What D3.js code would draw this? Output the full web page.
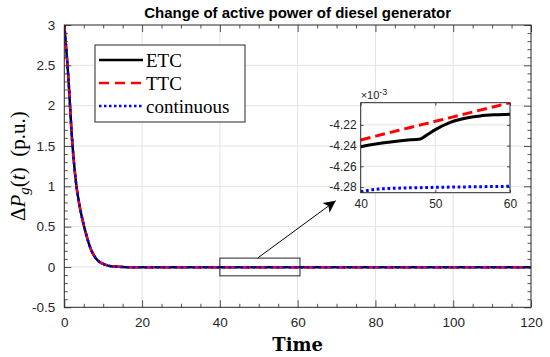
<!DOCTYPE html>
<html>
<head>
<meta charset="utf-8">
<script src="https://cdn.jsdelivr.net/npm/d3@7"></script>
<style>
  body { margin: 0; background: #fff; }
  svg { display: block; }
  .tick text { fill: #262626; }
</style>
</head>
<body>
<svg id="chart" width="550" height="357"></svg>
<script>
// main curves (the three controllers overlap at this scale)
var mainTime = [0, 1, 2, 3, 4, 5, 6, 7, 8, 9, 10, 11, 12, 13, 14, 16, 20, 30, 40, 60, 80, 100, 120];
var etcMain  = [3.00, 2.38, 1.58, 1.05, 0.74, 0.52, 0.34, 0.20, 0.115, 0.065, 0.037, 0.02, 0.01, 0.005, 0.002, -0.002, -0.004, -0.0042, -0.0042, -0.0042, -0.0042, -0.0042, -0.0042];
var ttcMain  = [3.00, 2.38, 1.58, 1.05, 0.74, 0.52, 0.34, 0.20, 0.115, 0.065, 0.037, 0.02, 0.01, 0.005, 0.002, -0.002, -0.004, -0.0042, -0.0042, -0.0042, -0.0042, -0.0042, -0.0042];
var contMain = [3.00, 2.38, 1.58, 1.05, 0.74, 0.52, 0.34, 0.20, 0.115, 0.065, 0.037, 0.02, 0.01, 0.005, 0.002, -0.002, -0.004, -0.0043, -0.0043, -0.0043, -0.0043, -0.0043, -0.0043];

// zoomed part, values in units of 1e-3
var insetTime = [40, 42, 44, 46, 48, 49, 50, 52, 54, 56, 58, 60];
var etcInset  = [-4.2410, -4.2385, -4.2365, -4.2348, -4.2335, -4.2290, -4.2245, -4.2175, -4.2135, -4.2113, -4.2102, -4.2096];
var ttcInset  = [-4.2345, -4.2308, -4.2272, -4.2236, -4.2200, -4.2183, -4.2165, -4.2129, -4.2093, -4.2057, -4.2021, -4.1985];
var contInset = [-4.2845, -4.2822, -4.2814, -4.2809, -4.2806, -4.2805, -4.2803, -4.2801, -4.2799, -4.2797, -4.2795, -4.2793];

var xTicks = [0, 20, 40, 60, 80, 100, 120];
var yTicks = [-0.5, 0, 0.5, 1, 1.5, 2, 2.5, 3];
var insetXTicks = [40, 50, 60];
var insetYTicks = [-4.28, -4.26, -4.24, -4.22];
var zoomBox = { x0: 40, x1: 60.6, y0: -0.11, y1: 0.11 };

var seriesNames = ["ETC", "TTC", "continuous"];
var seriesColors = ["#000000", "#ff0000", "#0000ff"];
var seriesDash = [null, "10,6", "2.5,2.5"];

var dd = { left: 64.3, right: 531, top: 25, bottom: 307.3 };
var ins = { left: 360.7, right: 510, top: 102.7, bottom: 192.7 };
var axisColor = "#262626", gridColor = "#e3e3e3";

var svg = d3.select("#chart");

var xScale = d3.scaleLinear().domain([0, 120]).range([dd.left, dd.right]);
var yScale = d3.scaleLinear().domain([-0.5, 3]).range([dd.bottom, dd.top]);

var defs = svg.append("defs");
defs.append("clipPath").attr("id", "clipMain").append("rect")
    .attr("x", dd.left).attr("y", dd.top)
    .attr("width", dd.right - dd.left).attr("height", dd.bottom - dd.top);
defs.append("clipPath").attr("id", "clipInset").append("rect")
    .attr("x", ins.left).attr("y", ins.top)
    .attr("width", ins.right - ins.left).attr("height", ins.bottom - ins.top);
defs.append("marker").attr("id", "arrowHead")
    .attr("viewBox", "0 0 10 10").attr("refX", 10).attr("refY", 5)
    .attr("markerUnits", "userSpaceOnUse")
    .attr("markerWidth", 16).attr("markerHeight", 12)
    .attr("orient", "auto")
    .append("path").attr("d", "M0,0 L10,5 L0,10 L2.5,5 Z").attr("fill", "#000");

// grid
svg.append("g").selectAll("line").data(xTicks.slice(1, -1)).enter().append("line")
    .attr("x1", function(d) { return xScale(d); }).attr("x2", function(d) { return xScale(d); })
    .attr("y1", dd.top).attr("y2", dd.bottom)
    .attr("stroke", gridColor).attr("stroke-width", 1);
svg.append("g").selectAll("line").data(yTicks.slice(1, -1)).enter().append("line")
    .attr("y1", function(d) { return yScale(d); }).attr("y2", function(d) { return yScale(d); })
    .attr("x1", dd.left).attr("x2", dd.right)
    .attr("stroke", gridColor).attr("stroke-width", 1);

function drawAxes(g, xs, ys, xt, yt, xMinor, yMinor, major, minor, fontSize, xPad, yPad, box) {
    var xAxisGen = d3.axisBottom(xs).tickValues(xt).tickSize(-major).tickSizeOuter(0).tickPadding(xPad)
        .tickFormat(function(d) { return d; });
    var xAxis = g.append("g").attr("class", "xax").attr("transform", "translate(0," + box.bottom + ")").call(xAxisGen);
    var yAxisGen = d3.axisLeft(ys).tickValues(yt).tickSize(-major).tickSizeOuter(0).tickPadding(yPad)
        .tickFormat(function(d) { return d; });
    var yAxis = g.append("g").attr("transform", "translate(" + box.left + ",0)").call(yAxisGen);
    g.append("g").attr("transform", "translate(0," + box.top + ")")
        .call(d3.axisTop(xs).tickValues(xt).tickSize(-major).tickSizeOuter(0).tickFormat(""));
    g.append("g").attr("transform", "translate(" + box.right + ",0)")
        .call(d3.axisRight(ys).tickValues(yt).tickSize(-major).tickSizeOuter(0).tickFormat(""));
    if (xMinor) {
        g.append("g").attr("transform", "translate(0," + box.bottom + ")")
            .call(d3.axisBottom(xs).tickValues(xMinor).tickSize(-minor).tickSizeOuter(0).tickFormat(""));
        g.append("g").attr("transform", "translate(0," + box.top + ")")
            .call(d3.axisTop(xs).tickValues(xMinor).tickSize(-minor).tickSizeOuter(0).tickFormat(""));
    }
    if (yMinor) {
        g.append("g").attr("transform", "translate(" + box.left + ",0)")
            .call(d3.axisLeft(ys).tickValues(yMinor).tickSize(-minor).tickSizeOuter(0).tickFormat(""));
        g.append("g").attr("transform", "translate(" + box.right + ",0)")
            .call(d3.axisRight(ys).tickValues(yMinor).tickSize(-minor).tickSizeOuter(0).tickFormat(""));
    }
    g.selectAll(".domain").remove();
    g.selectAll(".tick line").attr("stroke", axisColor).attr("stroke-width", 0.8);
    g.selectAll(".tick text")
        .attr("font-family", "Liberation Sans, Arial, sans-serif")
        .attr("font-size", fontSize);
    g.append("rect")
        .attr("x", box.left).attr("y", box.top)
        .attr("width", box.right - box.left).attr("height", box.bottom - box.top)
        .attr("fill", "none").attr("stroke", axisColor).attr("stroke-width", 1);
    return xAxis;
}

var xMinorMain = d3.range(0, 121, 5).filter(function(d) { return d % 20 !== 0; });
var yMinorMain = d3.range(-5, 31, 1).map(function(d) { return d / 10; })
    .filter(function(d) { return Math.round(d * 10) % 5 !== 0; });

var lineMain = function(ys) {
    return d3.line()
        .x(function(d, i) { return xScale(mainTime[i]); })
        .y(function(d) { return yScale(d); })
        .curve(d3.curveMonotoneX)(ys);
};

var mainSeries = [etcMain, ttcMain, contMain];
var mainLines = svg.append("g").attr("clip-path", "url(#clipMain)");
mainSeries.forEach(function(s, k) {
    mainLines.append("path")
        .attr("d", lineMain(s))
        .attr("fill", "none")
        .attr("stroke", seriesColors[k])
        .attr("stroke-width", 2.5)
        .attr("stroke-dasharray", k === 2 ? "2.5,3.5" : seriesDash[k]);
});

drawAxes(svg.append("g"), xScale, yScale, xTicks, yTicks, xMinorMain, yMinorMain, 7, 3.5, 13.5, 10, 9, dd);

// zoom rectangle and arrow
svg.append("rect")
    .attr("x", xScale(zoomBox.x0)).attr("y", yScale(zoomBox.y1))
    .attr("width", xScale(zoomBox.x1) - xScale(zoomBox.x0))
    .attr("height", yScale(zoomBox.y0) - yScale(zoomBox.y1))
    .attr("fill", "none").attr("stroke", axisColor).attr("stroke-width", 1);

svg.append("line")
    .attr("x1", xScale(49.7)).attr("y1", yScale(zoomBox.y1))
    .attr("x2", ins.left - 25).attr("y2", ins.bottom + 8)
    .attr("stroke", "#000").attr("stroke-width", 1)
    .attr("marker-end", "url(#arrowHead)");

// legend
var legend = svg.append("g");
legend.append("rect")
    .attr("x", 95).attr("y", 45).attr("width", 150).attr("height", 77)
    .attr("fill", "#fff").attr("stroke", axisColor).attr("stroke-width", 1);
var legendRows = legend.selectAll(".row").data(seriesNames).enter().append("g")
    .attr("class", "row")
    .attr("transform", function(d, i) { return "translate(0," + [60, 83, 106][i] + ")"; });
legendRows.append("line")
    .attr("x1", 99).attr("x2", 143).attr("y1", 0).attr("y2", 0)
    .attr("stroke", function(d, i) { return seriesColors[i]; })
    .attr("stroke-width", 2.5)
    .attr("stroke-dasharray", function(d, i) { return seriesDash[i]; });
legendRows.append("text")
    .attr("x", 146).attr("y", 6.5)
    .attr("font-family", "Liberation Serif, Times New Roman, serif")
    .attr("font-size", 19)
    .attr("fill", "#000")
    .text(function(d) { return d; });

// inset
var xIn = d3.scaleLinear().domain([40, 60]).range([ins.left, ins.right]);
var yIn = d3.scaleLinear().domain([-4.2855, -4.1985]).range([ins.bottom, ins.top]);

var insetG = svg.append("g");
insetG.append("rect")
    .attr("x", ins.left).attr("y", ins.top)
    .attr("width", ins.right - ins.left).attr("height", ins.bottom - ins.top)
    .attr("fill", "#fff");
insetG.append("line")
    .attr("x1", xIn(50)).attr("x2", xIn(50)).attr("y1", ins.top).attr("y2", ins.bottom)
    .attr("stroke", gridColor);
insetG.selectAll(".hgrid").data(insetYTicks).enter().append("line")
    .attr("class", "hgrid")
    .attr("y1", function(d) { return yIn(d); }).attr("y2", function(d) { return yIn(d); })
    .attr("x1", ins.left).attr("x2", ins.right)
    .attr("stroke", gridColor);

var insetSeries = [etcInset, ttcInset, contInset];
var insetLines = insetG.append("g").attr("clip-path", "url(#clipInset)");
insetSeries.forEach(function(s, k) {
    insetLines.append("path")
        .attr("d", d3.line()
            .x(function(d, i) { return xIn(insetTime[i]); })
            .y(function(d) { return yIn(d); })
            .curve(d3.curveMonotoneX)(s))
        .attr("fill", "none")
        .attr("stroke", seriesColors[k])
        .attr("stroke-width", 3)
        .attr("stroke-dasharray", k === 1 ? "10,5" : (k === 2 ? "2.7,2.7" : null));
});

var insetX = drawAxes(insetG, xIn, yIn, insetXTicks, insetYTicks, null, null, 3, 0, 12, 4, 4, ins);
insetX.selectAll(".tick text").attr("dy", "0.95em");

var expo = insetG.append("text")
    .attr("x", ins.left).attr("y", ins.top - 3.5)
    .attr("font-family", "Liberation Sans, Arial, sans-serif")
    .attr("font-size", 11)
    .attr("fill", axisColor);
expo.append("tspan").text("\u00d710");
expo.append("tspan").attr("dy", -4).attr("font-size", 9).text("-3");

// titles
svg.append("text")
    .attr("x", (dd.left + dd.right) / 2).attr("y", 18)
    .attr("text-anchor", "middle")
    .attr("font-family", "Liberation Sans, Arial, sans-serif")
    .attr("font-weight", "bold")
    .attr("font-size", 15)
    .attr("fill", "#000")
    .text("Change of active power of diesel generator");

svg.append("text")
    .attr("x", (dd.left + dd.right) / 2).attr("y", 351)
    .attr("text-anchor", "middle")
    .attr("font-family", "DejaVu Serif, serif")
    .attr("font-weight", "bold")
    .attr("font-size", 18)
    .attr("fill", "#000")
    .text("Time");

var yLab = svg.append("text")
    .attr("transform", "translate(25," + (dd.top + dd.bottom) / 2 + ") rotate(-90)")
    .attr("text-anchor", "middle")
    .attr("font-family", "Liberation Serif, Times New Roman, serif")
    .attr("font-size", 21)
    .attr("fill", "#000");
yLab.append("tspan").text("\u0394");
yLab.append("tspan").attr("font-style", "italic").text("P");
yLab.append("tspan").attr("font-style", "italic").attr("font-size", 15).attr("dy", 4).text("g");
yLab.append("tspan").attr("dy", -4).text("(");
yLab.append("tspan").attr("font-style", "italic").text("t");
yLab.append("tspan").text(")\u2002(p.u.)");
</script>
</body>
</html>
